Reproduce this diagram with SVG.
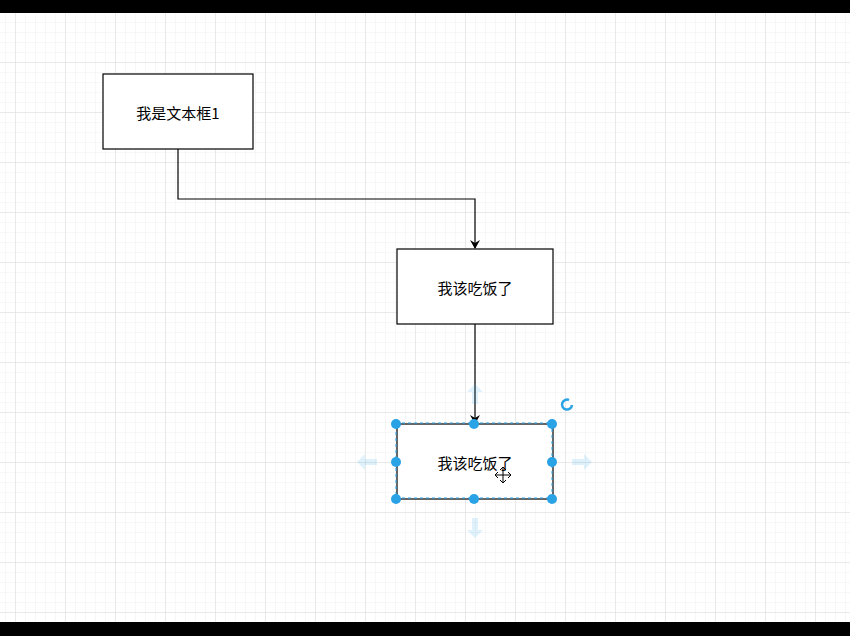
<svg xmlns="http://www.w3.org/2000/svg" width="850" height="636" viewBox="0 0 850 636">
<defs>
<pattern id="minor" x="5" y="2" width="10" height="10" patternUnits="userSpaceOnUse"><path d="M0 0H10M0 0V10" fill="none" stroke="#f0f0f0" stroke-width="1"/></pattern>
<pattern id="major" x="15" y="12" width="50" height="50" patternUnits="userSpaceOnUse"><path d="M0 0H50M0 0V50" fill="none" stroke="#dcdcdc" stroke-width="1"/></pattern>
<marker id="arr" markerWidth="10" markerHeight="10" refX="8" refY="5" orient="auto" markerUnits="userSpaceOnUse"><path d="M0 0L9 5L0 10L3 5Z" fill="#000"/></marker>
</defs>
<style>
.box{fill:#fff;stroke:#000;stroke-width:1.2}
.t{font-family:"Noto Sans CJK SC","Liberation Sans",sans-serif;font-size:15px;text-anchor:middle;dominant-baseline:central;fill:#000}
.h{fill:#29a3e6}
.ghost{fill:#29a3e6;opacity:0.15}
</style>
<rect width="850" height="636" fill="#fff"/>
<rect width="850" height="636" fill="url(#minor)"/>
<rect width="850" height="636" fill="url(#major)"/>
<g id="connectors" fill="none" stroke="#000" stroke-width="1.2">
<path d="M178 149V199H475V248" marker-end="url(#arr)"/>
<path d="M475 324V423" marker-end="url(#arr)"/>
</g>
<g id="node1"><rect class="box" x="103" y="74" width="150" height="75"/><text class="t" x="178" y="112">我是文本框1</text></g>
<g id="node2"><rect class="box" x="397" y="249" width="156" height="75"/><text class="t" x="475" y="287">我该吃饭了</text></g>
<g id="node3"><rect class="box" x="397" y="424" width="156" height="75"/><text class="t" x="475" y="462">我该吃饭了</text>
<rect x="396" y="423" width="156" height="75" fill="none" stroke="#29a3e6" stroke-width="1" stroke-dasharray="3 3"/>
</g>
<g id="selection">
<path class="ghost" d="M475 384l-8 8h5v12h6v-12h5z"/>
<path class="ghost" d="M475 538l-8 -8h5v-12h6v12h5z"/>
<path class="ghost" d="M357 462l8 -8v5h12v6h-12v5z"/>
<path class="ghost" d="M592 462l-8 -8v5h-12v6h12v5z"/>
<circle class="h" cx="396" cy="424" r="5"/><circle class="h" cx="474" cy="424" r="5"/><circle class="h" cx="552" cy="424" r="5"/>
<circle class="h" cx="396" cy="462" r="5"/><circle class="h" cx="552" cy="462" r="5"/>
<circle class="h" cx="396" cy="499" r="5"/><circle class="h" cx="474" cy="499" r="5"/><circle class="h" cx="552" cy="499" r="5"/>
<path d="M572 405a5 5 0 1 1 -3 -5" fill="none" stroke="#29a3e6" stroke-width="2.5"/>
<path d="M495 475h16M503 467v16M495 475l3-3M495 475l3 3M511 475l-3-3M511 475l-3 3M503 467l-3 3M503 467l3 3M503 483l-3-3M503 483l3-3" stroke="#000" stroke-width="1" fill="none"/>
</g>
<rect x="0" y="0" width="850" height="13" fill="#000"/>
<rect x="0" y="622" width="850" height="14" fill="#000"/>
</svg>
